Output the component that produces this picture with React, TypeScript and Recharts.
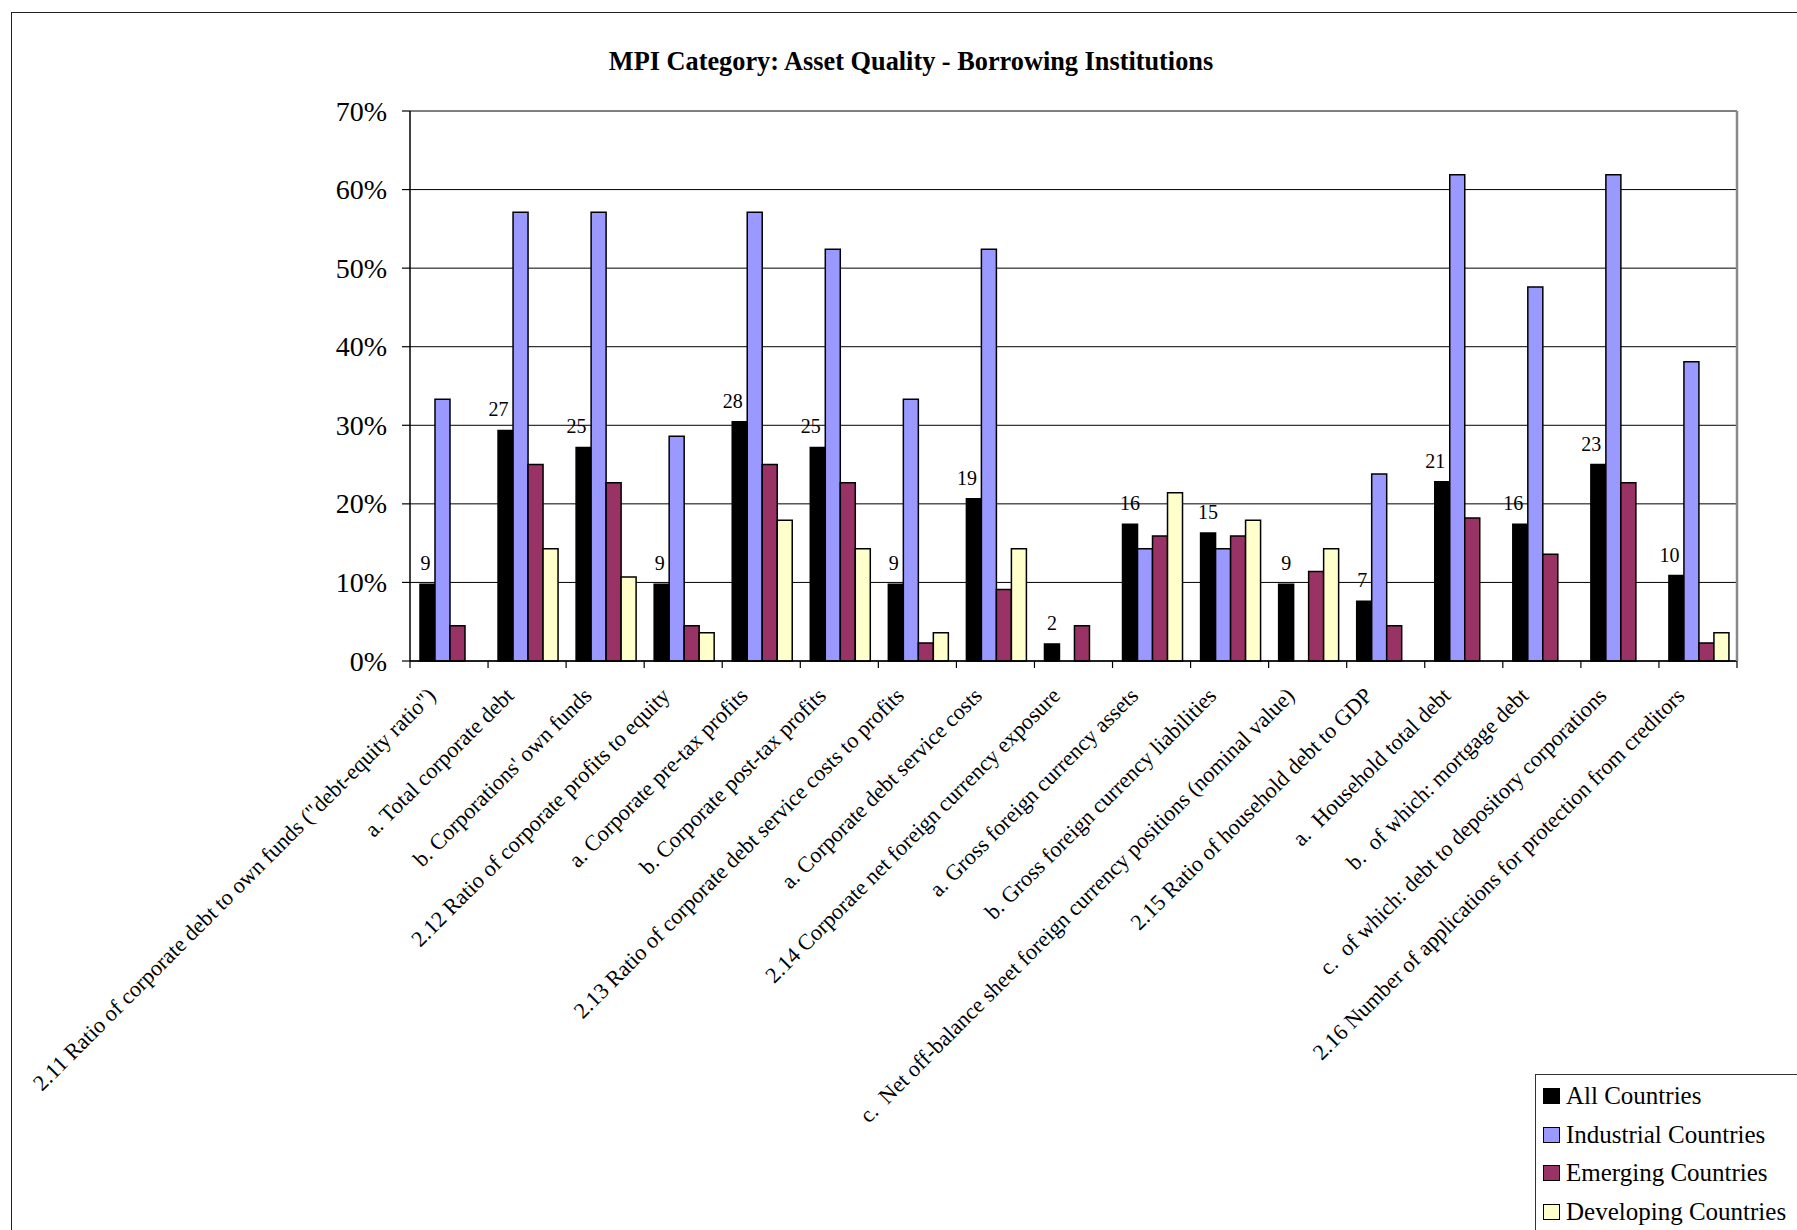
import React from 'react';
import { BarChart, Bar, XAxis, YAxis, CartesianGrid, LabelList } from 'recharts';

const SERIF = '"Liberation Serif", "Times New Roman", Times, serif';

const categories: string[] = [
  '2.11 Ratio of corporate debt to own funds ("debt-equity ratio")',
  'a. Total corporate debt',
  "b. Corporations' own funds",
  '2.12 Ratio of corporate profits to equity',
  'a. Corporate pre-tax profits',
  'b. Corporate post-tax profits',
  '2.13 Ratio of corporate debt service costs to profits',
  'a. Corporate debt service costs',
  '2.14 Corporate net foreign currency exposure',
  'a. Gross foreign currency assets',
  'b. Gross foreign currency liabilities',
  'c.  Net off-balance sheet foreign currency positions (nominal value)',
  '2.15 Ratio of household debt to GDP',
  'a.  Household total debt',
  'b.  of which: mortgage debt',
  'c.  of which: debt to depository corporations',
  '2.16 Number of applications for protection from creditors',
];

// Number of reporting countries (all groups) using each indicator
const allCountriesCounts: number[] = [9, 27, 25, 9, 28, 25, 9, 19, 2, 16, 15, 9, 7, 21, 16, 23, 10];
const allCountriesTotal = 92;

// Shares (percent) within each country group
const industrialPct: number[] = [33.3, 57.1, 57.1, 28.6, 57.1, 52.4, 33.3, 52.4, 0, 14.3, 14.3, 0, 23.8, 61.9, 47.6, 61.9, 38.1];
const emergingPct: number[] = [4.5, 25.0, 22.7, 4.5, 25.0, 22.7, 2.3, 9.1, 4.5, 15.9, 15.9, 11.4, 4.5, 18.2, 13.6, 22.7, 2.3];
const developingPct: number[] = [0, 14.3, 10.7, 3.6, 17.9, 14.3, 3.6, 14.3, 0, 21.4, 17.9, 14.3, 0, 0, 0, 0, 3.6];

const yTicks: number[] = [0, 10, 20, 30, 40, 50, 60, 70];

const seriesNames = ['All Countries', 'Industrial Countries', 'Emerging Countries', 'Developing Countries'];
const seriesColors = ['#000000', '#9999FF', '#993366', '#FFFFCC'];

const data = categories.map((name, i) => ({
  name,
  allCount: allCountriesCounts[i],
  all: (allCountriesCounts[i] / allCountriesTotal) * 100,
  industrial: industrialPct[i],
  emerging: emergingPct[i],
  developing: developingPct[i],
}));

const W = 1797;
const H = 1230;
const PLOT_LEFT = 410;
const PLOT_TOP = 111;
const PLOT_RIGHT = 1737;
const PLOT_BOTTOM = 661;
const Y_AXIS_W = 100;
const X_AXIS_H = 200;
const RIGHT_AXIS_W = 1;

function CategoryTick(props: any) {
  const { x, y, payload, index, width, visibleTicksCount } = props;
  const band = width && visibleTicksCount ? width / visibleTicksCount : (PLOT_RIGHT - PLOT_LEFT) / categories.length;
  const left = payload.coordinate - band / 2;
  const right = payload.coordinate + band / 2;
  const tx = x - 12;
  const ty = y + 36;
  return (
    <g>
      <line x1={left} y1={y} x2={left} y2={y + 7} stroke="#000" strokeWidth={1.2} />
      {index === visibleTicksCount - 1 && (
        <line x1={right} y1={y} x2={right} y2={y + 7} stroke="#000" strokeWidth={1.2} />
      )}
      <text
        x={tx}
        y={ty}
        transform={`rotate(-45 ${tx} ${ty})`}
        textAnchor="end"
        fontSize={22.3}
        fontFamily={SERIF}
        fill="#000"
        style={{ whiteSpace: 'pre' }}
      >
        {payload.value}
      </text>
    </g>
  );
}

function PercentTick(props: any) {
  const { x, y, payload } = props;
  return (
    <text x={x} y={y} dy="0.34em" textAnchor="end" fontSize={28} fontFamily={SERIF} fill="#000">
      {`${payload.value}%`}
    </text>
  );
}

function CountLabel(props: any) {
  const { x, y, width, value, index } = props;
  const shareAll = (allCountriesCounts[index] / allCountriesTotal) * 100;
  const besideTaller = industrialPct[index] > shareAll + 2;
  const dx = besideTaller ? (String(value).length > 1 ? -7 : -2) : 0;
  return (
    <text
      x={x + width / 2 + dx}
      y={y - 14}
      textAnchor="middle"
      fontSize={20}
      fontFamily={SERIF}
      fill="#000"
    >
      {value}
    </text>
  );
}

export default function App() {
  return (
    <div
      style={{
        position: 'absolute',
        left: 0,
        top: 0,
        width: W,
        height: H,
        overflow: 'hidden',
        background: '#fff',
        fontFamily: SERIF,
      }}
    >
      <div
        style={{
          position: 'absolute',
          left: 11,
          top: 12,
          width: 1900,
          height: 1400,
          border: '1.5px solid #222',
          boxSizing: 'border-box',
        }}
      />
      <div style={{ position: 'absolute', left: 0, top: 0 }}>
        <BarChart
          width={W}
          height={H}
          data={data}
          margin={{
            top: PLOT_TOP,
            right: W - PLOT_RIGHT - RIGHT_AXIS_W,
            left: PLOT_LEFT - Y_AXIS_W,
            bottom: H - PLOT_BOTTOM - X_AXIS_H,
          }}
          barCategoryGap="12.8%"
          barGap={0}
          style={{ fontFamily: SERIF }}
        >
          <CartesianGrid vertical={false} stroke="#000" strokeWidth={1} />
          <XAxis
            dataKey="name"
            interval={0}
            height={X_AXIS_H}
            tickSize={0}
            tickMargin={0}
            tickLine={false}
            axisLine={{ stroke: '#000', strokeWidth: 1.5 }}
            tick={<CategoryTick />}
          />
          <XAxis
            xAxisId="top"
            dataKey="name"
            orientation="top"
            height={0}
            tick={false}
            tickLine={false}
            axisLine={{ stroke: '#888', strokeWidth: 2.5 }}
          />
          <YAxis
            domain={[0, 70]}
            ticks={yTicks}
            interval={0}
            width={Y_AXIS_W}
            tickSize={8}
            tickMargin={15}
            tick={<PercentTick />}
            tickLine={{ stroke: '#000', strokeWidth: 1.2 }}
            axisLine={{ stroke: '#000', strokeWidth: 1.5 }}
          />
          <YAxis
            yAxisId="right"
            orientation="right"
            domain={[0, 70]}
            width={RIGHT_AXIS_W}
            tick={false}
            tickLine={false}
            axisLine={{ stroke: '#888', strokeWidth: 2.5 }}
          />
          <Bar dataKey="all" name={seriesNames[0]} fill={seriesColors[0]} stroke="#000" strokeWidth={1.5} isAnimationActive={false}>
            <LabelList dataKey="allCount" content={<CountLabel />} />
          </Bar>
          <Bar dataKey="industrial" name={seriesNames[1]} fill={seriesColors[1]} stroke="#000" strokeWidth={1.5} isAnimationActive={false} />
          <Bar dataKey="emerging" name={seriesNames[2]} fill={seriesColors[2]} stroke="#000" strokeWidth={1.5} isAnimationActive={false} />
          <Bar dataKey="developing" name={seriesNames[3]} fill={seriesColors[3]} stroke="#000" strokeWidth={1.5} isAnimationActive={false} />
        </BarChart>
      </div>
      <svg
        width={W}
        height={100}
        style={{ position: 'absolute', left: 0, top: 0, pointerEvents: 'none' }}
      >
        <text x={911} y={70} textAnchor="middle" fontSize={26.3} fontWeight="bold" fontFamily={SERIF} fill="#000">
          MPI Category: Asset Quality - Borrowing Institutions
        </text>
      </svg>
      <div
        style={{
          position: 'absolute',
          left: 1535,
          top: 1074,
          width: 320,
          height: 220,
          border: '1.2px solid #333',
          boxSizing: 'border-box',
          background: '#fff',
        }}
      >
        {seriesNames.map((name, i) => (
          <div
            key={name}
            style={{
              position: 'absolute',
              left: 7,
              top: 12 + i * 38.7,
              height: 18,
              display: 'flex',
              alignItems: 'center',
              whiteSpace: 'nowrap',
            }}
          >
            <span
              style={{
                display: 'inline-block',
                width: 17,
                height: 16,
                background: seriesColors[i],
                border: '1.5px solid #000',
                boxSizing: 'border-box',
                marginRight: 6,
              }}
            />
            <span style={{ fontSize: 25, lineHeight: '18px', color: '#000', fontFamily: SERIF }}>{name}</span>
          </div>
        ))}
      </div>
    </div>
  );
}
